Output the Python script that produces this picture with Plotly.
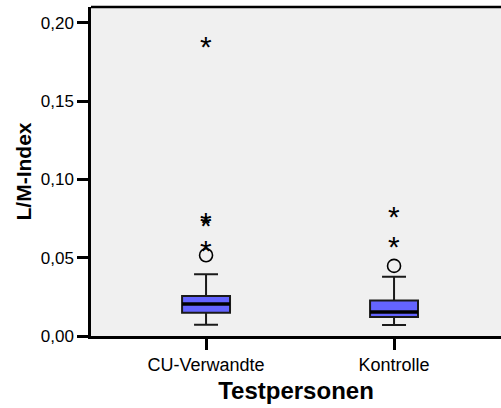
import plotly.graph_objects as go

# Box-plot summary per group (L/M-Index)
groups = ["CU-Verwandte", "Kontrolle"]
q1 = [0.0148, 0.0121]
median = [0.0204, 0.0153]
q3 = [0.0255, 0.0227]
lower_whisker = [0.0072, 0.0070]
upper_whisker = [0.0395, 0.0378]

# Outliers (circles) and extreme values (stars)
outliers = [[0.0516], [0.0448]]
extremes = [[0.0573, 0.0734, 0.0750, 0.1875], [0.0597, 0.0792]]

y_tick_vals = [0.0, 0.05, 0.10, 0.15, 0.20]
y_tick_text = ["0,00", "0,05", "0,10", "0,15", "0,20"]

BOX_W = 0.255
FONT = "Liberation Sans, Arial, sans-serif"

fig = go.Figure()

for i, g in enumerate(groups):
    fig.add_trace(go.Box(
        x=[i], q1=[q1[i]], median=[median[i]], q3=[q3[i]],
        lowerfence=[lower_whisker[i]], upperfence=[upper_whisker[i]],
        width=BOX_W, whiskerwidth=0.5,
        fillcolor="#6464ff", line=dict(color="#1a1a1a", width=2),
        boxpoints=False, hoverinfo="skip", showlegend=False,
    ))
    # heavier median bar
    fig.add_trace(go.Scatter(
        x=[i - BOX_W / 2, i + BOX_W / 2], y=[median[i], median[i]],
        mode="lines", line=dict(color="black", width=3.5),
        hoverinfo="skip", showlegend=False,
    ))
    fig.add_trace(go.Scatter(
        x=[i] * len(outliers[i]), y=outliers[i], mode="markers",
        marker=dict(symbol="circle-open", size=13, color="black",
                    line=dict(width=1.6, color="black")),
        hoverinfo="skip", showlegend=False,
    ))
    for v in extremes[i]:
        fig.add_annotation(
            x=i, y=v, text="*", showarrow=False, xref="x", yref="y",
            font=dict(family=FONT, size=30, color="black"),
            yshift=-4,
        )

# top frame line of the plot area
fig.add_shape(type="line", xref="paper", yref="paper", x0=0, x1=1, y0=1, y1=1,
              line=dict(color="black", width=2.5))

fig.update_layout(
    width=501, height=408,
    margin=dict(l=91, r=0, t=7, b=72),
    paper_bgcolor="white", plot_bgcolor="#f0f0f0",
    font=dict(family=FONT, color="black"),
)

fig.update_xaxes(
    range=[-0.612, 1.569], tickvals=[0, 1], ticktext=groups,
    showgrid=False, zeroline=False,
    showline=True, linecolor="black", linewidth=2.5,
    ticks="outside", ticklen=11, tickwidth=2.5, tickcolor="black",
    tickfont=dict(size=18, family=FONT),
    title=dict(text="<b>Testpersonen</b>", font=dict(size=24, family=FONT), standoff=8),
)
fig.update_yaxes(
    range=[0, 0.2102], tickvals=y_tick_vals, ticktext=y_tick_text,
    showgrid=False, zeroline=False,
    showline=True, linecolor="black", linewidth=2.5,
    ticks="outside", ticklen=11, tickwidth=2.5, tickcolor="black",
    tickfont=dict(size=17, family=FONT),
    title=dict(text="<b>L/M-Index</b>", font=dict(size=21, family=FONT), standoff=4),
)

fig.write_html("out.html")
